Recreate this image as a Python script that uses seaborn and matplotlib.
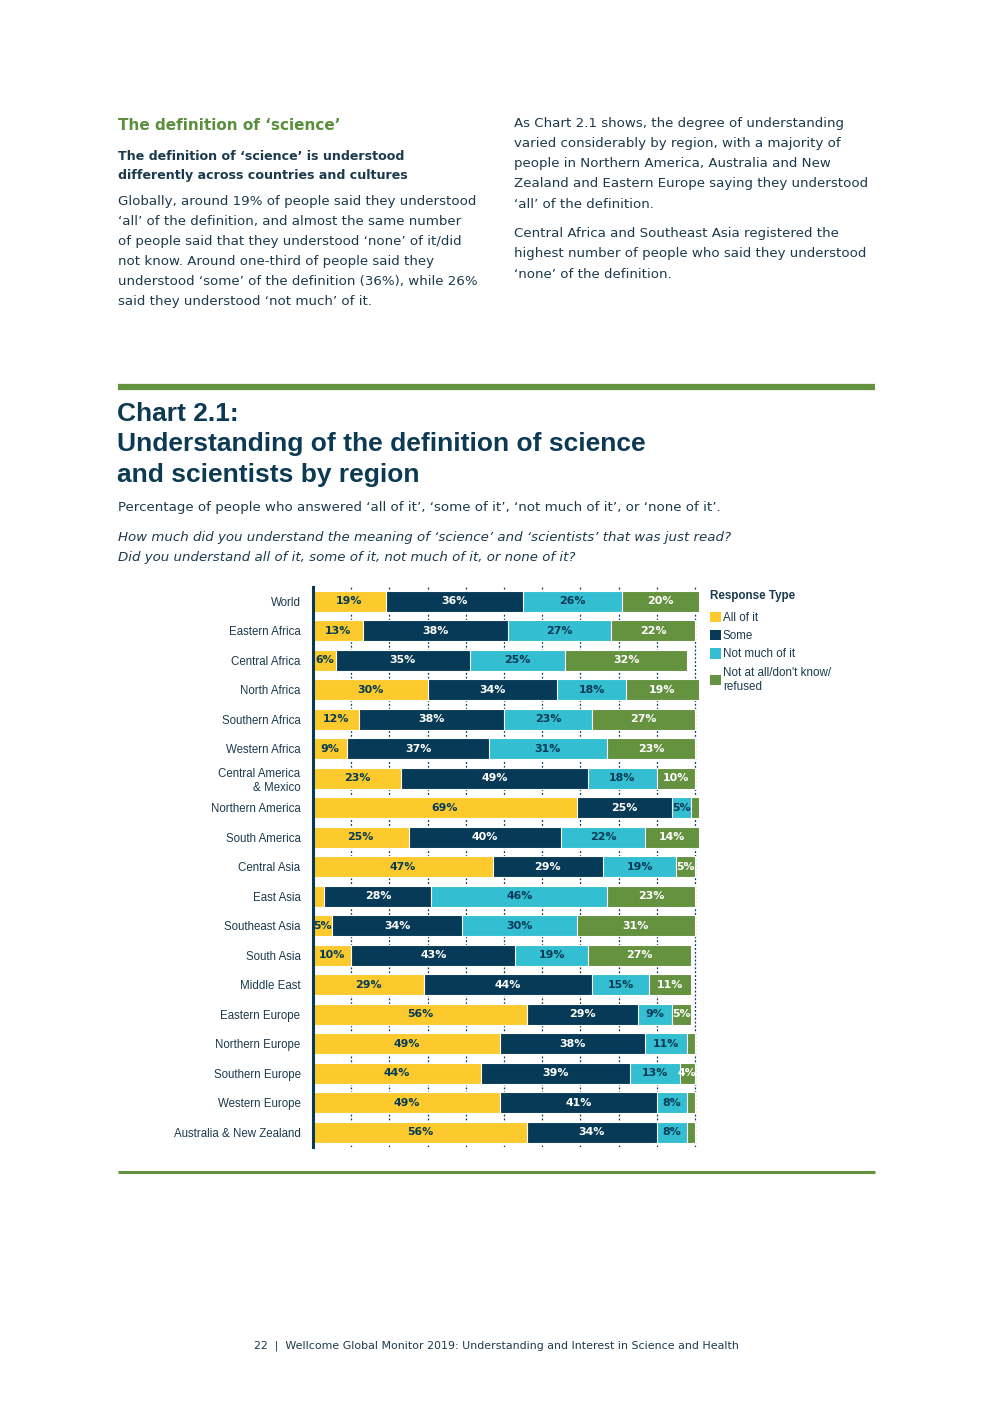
import matplotlib
matplotlib.use("Agg")
import matplotlib.pyplot as plt
import seaborn as sns
import pandas as pd
from matplotlib.patches import Patch

# ---------------- data ----------------
regions = ["World", "Eastern Africa", "Central Africa", "North Africa", "Southern Africa",
           "Western Africa", "Central America\n& Mexico", "Northern America", "South America",
           "Central Asia", "East Asia", "Southeast Asia", "South Asia", "Middle East",
           "Eastern Europe", "Northern Europe", "Southern Europe", "Western Europe",
           "Australia & New Zealand"]
all_of_it = [19, 13, 6, 30, 12, 9, 23, 69, 25, 47, 3, 5, 10, 29, 56, 49, 44, 49, 56]
some = [36, 38, 35, 34, 38, 37, 49, 25, 40, 29, 28, 34, 43, 44, 29, 38, 39, 41, 34]
not_much = [26, 27, 25, 18, 23, 31, 18, 5, 22, 19, 46, 30, 19, 15, 9, 11, 13, 8, 8]
not_at_all = [20, 22, 32, 19, 27, 23, 10, 2, 14, 5, 23, 31, 27, 11, 5, 2, 4, 2, 2]
series_names = ["All of it", "Some", "Not much of it", "Not at all/don't know/\nrefused"]

YELLOW = "#fdca2e"
NAVY = "#063a56"
CYAN = "#33bfd1"
GREEN = "#64923e"
TEXT = "#1c3a4e"
colors = [YELLOW, NAVY, CYAN, GREEN]
label_colors = [NAVY, "white", NAVY, "white"]

sns.set_style("white")
plt.rcParams['font.family'] = ['Liberation Sans', 'DejaVu Sans']
BODY = ['DejaVu Sans']

W, H = 992, 1403
fig = plt.figure(figsize=(W / 100, H / 100), dpi=100)


def fx(px):
    return px / W


def fy(py):
    return 1 - py / H


# ---------------- page text ----------------
fig.text(fx(118), fy(126), "The definition of \u2018science\u2019", color="#5b8f3b",
         fontsize=11.0, fontweight="bold", family=BODY, va="center", ha="left")
fig.text(fx(118), fy(156), "The definition of \u2018science\u2019 is understood", color=TEXT,
         fontsize=9.05, fontweight="bold", family=BODY, va="center", ha="left")
fig.text(fx(118), fy(176), "differently across countries and cultures", color=TEXT,
         fontsize=9.05, fontweight="bold", family=BODY, va="center", ha="left")
left_body = ["Globally, around 19% of people said they understood",
             "\u2018all\u2019 of the definition, and almost the same number",
             "of people said that they understood \u2018none\u2019 of it/did",
             "not know. Around one-third of people said they",
             "understood \u2018some\u2019 of the definition (36%), while 26%",
             "said they understood \u2018not much\u2019 of it."]
for i, line in enumerate(left_body):
    fig.text(fx(118), fy(201 + 20 * i), line, color=TEXT, fontsize=9.6, family=BODY,
             va="center", ha="left")

right_body1 = ["As Chart 2.1 shows, the degree of understanding",
               "varied considerably by region, with a majority of",
               "people in Northern America, Australia and New",
               "Zealand and Eastern Europe saying they understood",
               "\u2018all\u2019 of the definition."]
for i, line in enumerate(right_body1):
    fig.text(fx(514), fy(124 + 20 * i), line, color=TEXT, fontsize=9.6, family=BODY,
             va="center", ha="left")
right_body2 = ["Central Africa and Southeast Asia registered the",
               "highest number of people who said they understood",
               "\u2018none\u2019 of the definition."]
for i, line in enumerate(right_body2):
    fig.text(fx(514), fy(234 + 20 * i), line, color=TEXT, fontsize=9.6, family=BODY,
             va="center", ha="left")

# green rules
fig.add_artist(plt.Line2D([fx(118), fx(875)], [fy(387), fy(387)], color=GREEN, lw=4.5,
                          solid_capstyle="butt"))
fig.add_artist(plt.Line2D([fx(118), fx(875)], [fy(1172), fy(1172)], color=GREEN, lw=2.2,
                          solid_capstyle="butt"))

for i, line in enumerate(["Chart 2.1:", "Understanding of the definition of science",
                          "and scientists by region"]):
    fig.text(fx(117), fy(414 + 30.5 * i), line, color="#0b3a52", fontsize=19,
             fontweight="bold", family=['Liberation Sans', 'DejaVu Sans'],
             va="center", ha="left")

fig.text(fx(118), fy(508),
         "Percentage of people who answered \u2018all of it\u2019, \u2018some of it\u2019, "
         "\u2018not much of it\u2019, or \u2018none of it\u2019.",
         color=TEXT, fontsize=9.6, family=BODY, va="center", ha="left")
fig.text(fx(118), fy(537),
         "How much did you understand the meaning of \u2018science\u2019 and \u2018scientists\u2019 that was just read?",
         color=TEXT, fontsize=9.6, family=BODY, style="italic", va="center", ha="left")
fig.text(fx(118), fy(557),
         "Did you understand all of it, some of it, not much of it, or none of it?",
         color=TEXT, fontsize=9.6, family=BODY, style="italic", va="center", ha="left")

fig.text(fx(496), fy(1346),
         "22  |  Wellcome Global Monitor 2019: Understanding and Interest in Science and Health",
         color=TEXT, fontsize=7.9, family=BODY, va="center", ha="center")

# ---------------- chart ----------------
px_per_pct = 3.82
xmax = 102
ax = fig.add_axes([fx(313), fy(1147), xmax * px_per_pct / W, 560 / H])

df = pd.DataFrame({"region": regions, "a": all_of_it, "b": some, "c": not_much, "d": not_at_all})
df["c1"] = df["a"]
df["c2"] = df["c1"] + df["b"]
df["c3"] = df["c2"] + df["c"]
df["c4"] = df["c3"] + df["d"]

cum_cols = ["c1", "c2", "c3", "c4"]
for col, color in reversed(list(zip(cum_cols, colors))):
    sns.barplot(data=df, y="region", x=col, orient="h", color=color, saturation=1,
                width=0.72, edgecolor="white", linewidth=0.8, ax=ax, zorder=2)

ax.set_xlim(0, xmax)
ax.set_ylim(18.5, -0.48)
ax.set_xticks(range(10, 101, 10))
ax.set_xticklabels([])
ax.tick_params(axis="x", length=0)
ax.tick_params(axis="y", length=0, pad=9, labelsize=8.3, labelcolor=TEXT)
ax.xaxis.grid(True, linestyle=(0, (1.5, 1.6)), color=NAVY, lw=0.9)
ax.yaxis.grid(False)
ax.set_axisbelow(True)
for s in ["top", "right", "bottom"]:
    ax.spines[s].set_visible(False)
ax.spines["left"].set_color(NAVY)
ax.spines["left"].set_linewidth(2.2)
ax.set_xlabel("")
ax.set_ylabel("")
for t in ax.get_yticklabels():
    t.set_multialignment("right")
    t.set_linespacing(1.3)

# segment labels
vals = [df["a"], df["b"], df["c"], df["d"]]
for k in range(4):
    for i in range(len(df)):
        v = vals[k].iloc[i]
        if v < 4:
            continue
        center = df[cum_cols[k]].iloc[i] - v / 2
        ax.text(center, i, f"{v}%", ha="center", va="center", color=label_colors[k],
                fontsize=7.9, fontweight="bold", family=["DejaVu Sans"], zorder=5)

# legend
handles = [Patch(facecolor=c, edgecolor="none") for c in colors]
leg = fig.legend(handles, series_names, loc="upper left",
                 bbox_to_anchor=(fx(706), fy(587)), frameon=False,
                 title="Response Type", fontsize=8.4,
                 title_fontproperties={"weight": "bold", "size": 8.4},
                 handlelength=0.95, handleheight=0.95, handletextpad=0.2, labelspacing=0.52,
                 borderaxespad=0, borderpad=0.3)
leg._legend_box.align = "left"
leg._legend_box.sep = 7
leg.get_title().set_color(TEXT)
for t in leg.get_texts():
    t.set_color(TEXT)
    t.set_linespacing(1.25)

fig.savefig("out.png", dpi=100, facecolor="white")
